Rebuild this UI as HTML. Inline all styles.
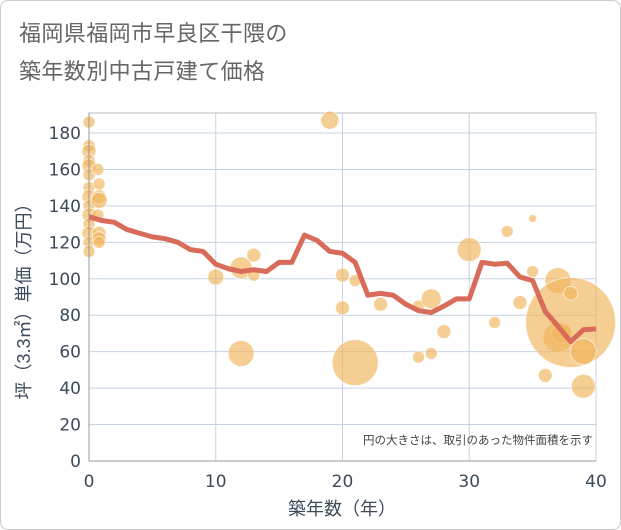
<!DOCTYPE html>
<html><head><meta charset="utf-8"><style>
body{margin:0;background:#fff;}
#wrap{position:relative;width:619px;height:528px;border:1px solid #ccc;border-radius:8px;overflow:hidden;}
svg{position:absolute;left:0;top:0;font-family:"Liberation Sans","Noto Sans CJK JP",sans-serif;}
.tk{font-family:"DejaVu Sans","Noto Sans CJK JP",sans-serif;}
</style></head><body>
<div id="wrap">
<svg id="chart" width="621" height="530">
<text x="18" y="40" font-size="22" fill="#666" letter-spacing="0.4">福岡県福岡市早良区干隈の</text>
<text x="18" y="78" font-size="22" fill="#666" letter-spacing="0.4">築年数別中古戸建て価格</text>
<g id="grid"></g><g id="bubbles"></g><g id="line"></g><g id="axes"></g>
<text x="592" y="443" font-size="11.5" fill="#444" text-anchor="end">円の大きさは、取引のあった物件面積を示す</text>
<text x="341" y="514" font-size="18" fill="#3d4a5c" text-anchor="middle">築年数（年）</text>
<text transform="translate(29,296) rotate(-90)" font-size="18" fill="#3d4a5c" text-anchor="middle">坪（3.3㎡）単価（万円）</text>
</svg></div>
<script>
const xTicks=[0,10,20,30,40];
const yTicks=[0,20,40,60,80,100,120,140,160,180];
const lineYears=[0,1,2,3,4,5,6,7,8,9,10,11,12,13,14,15,16,17,18,19,20,21,22,23,24,25,26,27,28,29,30,31,32,33,34,35,36,37,38,39,40];
const lineValues=[134,132,131,127,125,123,122,120,116,115,108,105.5,104,105,104,109,109,124,121,115,114,109,91,92,91,86,82.5,81.5,85,89,89,109,108,108.5,101,99,82,74,65.5,72,72.5];
const bubbleX=[0,0,0,0,0,0,0,0,0,0,0,0,0,0,0.7,0.8,0.8,0.8,0.7,0.8,0.8,0.8,12,12,10,13,13,19,20,20,21,21,23,26,26,27,27,28,30,32,33,34,35,35,36,37,37,37.3,38,38,39,39];
const bubbleY=[186,173,170,165,162,157,150,145,140,135,130,125,120,115,160,152,145,143,135,125,122,120,106,59,101,113,102,187,102,84,54,99,86,57,85,89,59,71,116,76,126,87,133,104,47,99,68,70,76,92,60,41];
const bubbleR=[6,6,7,6,7,6,6,7,6,7,6,7,6,6,6,6,7,8,6,7,7,6,11,13,8,7,6,9,7,7,23,6,7,6,6,10,6,7,12,6,6,7,4,6,7,13,15,10,45,7,13,12];
const NS='http://www.w3.org/2000/svg';
const X0=88,X1=595,Y0=460,Y1=132;
function sx(v){return X0+(X1-X0)*v/40;}
function sy(v){return Y0-(Y0-Y1)*v/180;}
function mk(tag,attrs,parent){const e=document.createElementNS(NS,tag);for(const k in attrs)e.setAttribute(k,attrs[k]);parent.appendChild(e);return e;}
const grid=document.getElementById('grid'),axes=document.getElementById('axes');
mk('rect',{x:X0,y:112,width:X1-X0,height:Y0-112,fill:'#fff',stroke:'#bbb'},grid);
yTicks.forEach(t=>{
 const l=mk('line',{x1:X0,x2:X1,y1:sy(t),y2:sy(t),stroke:'#c5d3e2','stroke-width':1},grid);
 
 
 const tx=mk('text',{x:80,y:sy(t)+6,'font-size':17,fill:'#3d4a5c','text-anchor':'end','class':'tk'},axes);
 tx.textContent=t;
 
 
});
xTicks.forEach(t=>{
 const l=mk('line',{x1:sx(t),x2:sx(t),y1:112,y2:Y0,stroke:'#c5d3e2','stroke-width':1},grid);
 
 
 const tx=mk('text',{x:sx(t),y:486,'font-size':17,fill:'#3d4a5c','text-anchor':'middle','class':'tk'},axes);
 tx.textContent=t;
 
 
});
mk('line',{x1:X0,x2:X0,y1:112,y2:Y0,stroke:'#999'},axes);
mk('line',{x1:X0,x2:X1,y1:Y0,y2:Y0,stroke:'#999'},axes);
const bg=document.getElementById('bubbles');
bubbleX.forEach((v,i)=>{
 const c=mk('circle',{cx:sx(v),cy:sy(bubbleY[i]),r:bubbleR[i],fill:'rgba(240,180,90,0.65)',stroke:'rgba(255,255,255,0.6)','stroke-width':1},bg);
 
 
});
const pts=lineYears.map((y,i)=>sx(y)+','+sy(lineValues[i])).join(' ');
const pl=mk('polyline',{points:pts,fill:'none',stroke:'#d86b5a','stroke-width':5,'stroke-linejoin':'round'},document.getElementById('line'));


</script>
</body></html>
